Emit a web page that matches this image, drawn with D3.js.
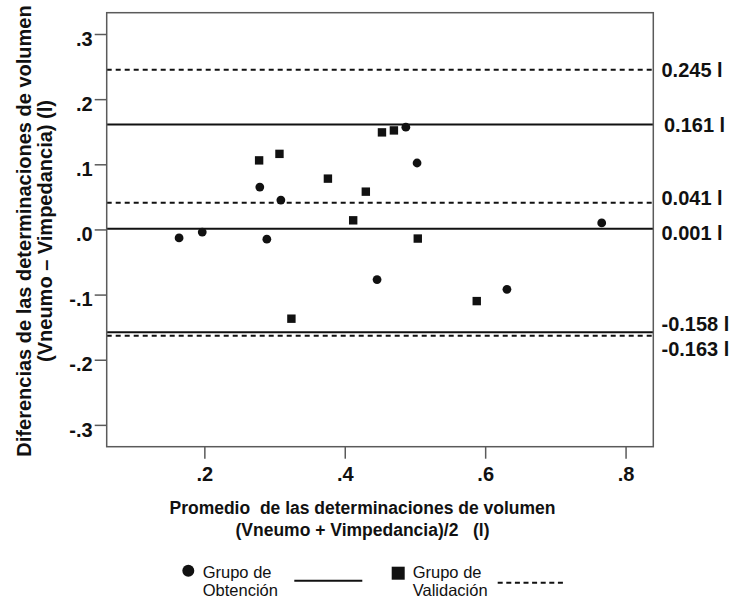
<!DOCTYPE html>
<html>
<head>
<meta charset="utf-8">
<script src="https://cdn.jsdelivr.net/npm/d3@7"></script>
<style>
  html, body { margin: 0; padding: 0; background: #fff; }
  svg { display: block; font-family: "Liberation Sans", Arial, sans-serif; }
</style>
</head>
<body>
<svg id="chart" width="732" height="600"></svg>
<script>
// Bland-Altman plot: average vs. difference of the two volume measurements

// Grupo de Obtención (circles)
const obtencionX = [0.164, 0.197, 0.279, 0.289, 0.309, 0.446, 0.487, 0.503, 0.631, 0.766];
const obtencionY = [-0.013, -0.004, 0.065, -0.015, 0.045, -0.077, 0.157, 0.102, -0.092, 0.010];

// Grupo de Validación (squares)
const validacionX = [0.278, 0.307, 0.324, 0.376, 0.412, 0.430, 0.453, 0.470, 0.504, 0.588];
const validacionY = [0.106, 0.116, -0.137, 0.078, 0.014, 0.058, 0.149, 0.152, -0.014, -0.110];

// Mean difference and limits of agreement for each group
const refLabels = ["0.245 l", "0.161 l", "0.041 l", "0.001 l", "-0.158 l", "-0.163 l"];
const refValues = [0.245, 0.161, 0.041, 0.001, -0.158, -0.163];
const refGroups = ["validacion", "obtencion", "validacion", "obtencion", "obtencion", "validacion"];
const refLabelShift = [0, 0, -5, 4, -9, 13];

// Axis ticks
const xTickValues = [0.2, 0.4, 0.6, 0.8];
const xTickLabels = [".2", ".4", ".6", ".8"];
const yTickValues = [0.3, 0.2, 0.1, 0.0, -0.1, -0.2, -0.3];
const yTickLabels = [".3", ".2", ".1", ".0", "-.1", "-.2", "-.3"];

const svg = d3.select("#chart");
const plot = { left: 106.7, right: 653.3, top: 12.7, bottom: 446.7 };

const x = d3.scaleLinear().domain([0.0609, 0.8395]).range([plot.left, plot.right]);
const y = d3.scaleLinear().domain([-0.3335, 0.3327]).range([plot.bottom, plot.top]);

const axisColor = "#5a5a5a";
const ink = "#111";
const fontStack = "'Liberation Sans', Arial, sans-serif";

// Reference lines
const refs = refValues.map((v, i) => ({ v, label: refLabels[i], group: refGroups[i], shift: refLabelShift[i] }));
svg.append("g").selectAll("line").data(refs).join("line")
  .attr("x1", plot.left).attr("x2", plot.right)
  .attr("y1", d => y(d.v)).attr("y2", d => y(d.v))
  .attr("stroke", ink).attr("stroke-width", 2)
  .attr("stroke-dasharray", d => d.group === "validacion" ? "5,4" : null);

// Frame
svg.append("rect")
  .attr("x", plot.left).attr("y", plot.top)
  .attr("width", plot.right - plot.left).attr("height", plot.bottom - plot.top)
  .attr("fill", "none").attr("stroke", axisColor).attr("stroke-width", 1.5);

// Y axis
const yAxis = svg.append("g").attr("transform", `translate(${plot.left},0)`)
  .call(d3.axisLeft(y).tickValues(yTickValues).tickSize(12).tickPadding(2)
    .tickFormat((d, i) => yTickLabels[i]));
yAxis.select(".domain").remove();
yAxis.selectAll(".tick line").attr("stroke", axisColor).attr("stroke-width", 1.5);
yAxis.selectAll(".tick text")
  .attr("font-size", 20).attr("font-weight", "bold").attr("fill", ink)
  .attr("font-family", fontStack)
  .attr("dy", "0.56em");

// X axis
const xAxis = svg.append("g").attr("transform", `translate(0,${plot.bottom})`)
  .call(d3.axisBottom(x).tickValues(xTickValues).tickSize(12).tickPadding(8)
    .tickFormat((d, i) => xTickLabels[i]));
xAxis.select(".domain").remove();
xAxis.selectAll(".tick line").attr("stroke", axisColor).attr("stroke-width", 1.5);
xAxis.selectAll(".tick text")
  .attr("font-size", 20).attr("font-weight", "bold").attr("fill", ink)
  .attr("font-family", fontStack);

// Points
const obtencion = obtencionX.map((v, i) => ({ x: v, y: obtencionY[i] }));
const validacion = validacionX.map((v, i) => ({ x: v, y: validacionY[i] }));

svg.append("g").selectAll("circle").data(obtencion).join("circle")
  .attr("cx", d => x(d.x)).attr("cy", d => y(d.y)).attr("r", 4.4).attr("fill", ink);

const sq = 8.4;
svg.append("g").selectAll("rect").data(validacion).join("rect")
  .attr("x", d => x(d.x) - sq / 2).attr("y", d => y(d.y) - sq / 2)
  .attr("width", sq).attr("height", sq).attr("fill", ink);

// Labels for the reference lines, on the right of the frame
svg.append("g").selectAll("text").data(refs).join("text")
  .attr("x", d => d.label === "0.161 l" ? 664 : 661.5)
  .attr("y", d => y(d.v) + d.shift)
  .attr("dy", "0.36em")
  .attr("font-size", 20).attr("font-weight", "bold").attr("fill", ink)
  .attr("xml:space", "preserve")
  .text(d => d.label);

// Axis titles
const xTitle = svg.append("text").attr("text-anchor", "middle")
  .attr("font-size", 17.5).attr("font-weight", "bold").attr("fill", ink)
  .attr("xml:space", "preserve");
xTitle.append("tspan").attr("x", 362.5).attr("y", 514).text("Promedio  de las determinaciones de volumen");
xTitle.append("tspan").attr("x", 362.5).attr("y", 536).text("(Vneumo + Vimpedancia)/2   (l)");

const yTitle = svg.append("text").attr("text-anchor", "middle")
  .attr("transform", "translate(0,231) rotate(-90)")
  .attr("font-size", 20).attr("font-weight", "bold").attr("fill", ink);
yTitle.append("tspan").attr("x", 0).attr("y", 31).text("Diferencias de las determinaciones de volumen");
yTitle.append("tspan").attr("x", 0).attr("y", 52).text("(Vneumo \u2013 Vimpedancia) (l)");

// Legend
const legend = svg.append("g").attr("fill", ink);
legend.append("circle").attr("cx", 188.3).attr("cy", 570.7).attr("r", 6);
const lt1 = legend.append("text").attr("font-size", 16.5);
lt1.append("tspan").attr("x", 202.7).attr("y", 577.5).text("Grupo de");
lt1.append("tspan").attr("x", 202.7).attr("y", 596).text("Obtención");
legend.append("line").attr("x1", 294.3).attr("x2", 362.3).attr("y1", 580.7).attr("y2", 580.7)
  .attr("stroke", ink).attr("stroke-width", 2);

legend.append("rect").attr("x", 391.7).attr("y", 566.7).attr("width", 13).attr("height", 13);
const lt2 = legend.append("text").attr("font-size", 16.5);
lt2.append("tspan").attr("x", 412.7).attr("y", 577.5).text("Grupo de");
lt2.append("tspan").attr("x", 412.7).attr("y", 596).text("Validación");
legend.append("line").attr("x1", 497.7).attr("x2", 566).attr("y1", 582.7).attr("y2", 582.7)
  .attr("stroke", ink).attr("stroke-width", 2).attr("stroke-dasharray", "5,3.6");
</script>
</body>
</html>
